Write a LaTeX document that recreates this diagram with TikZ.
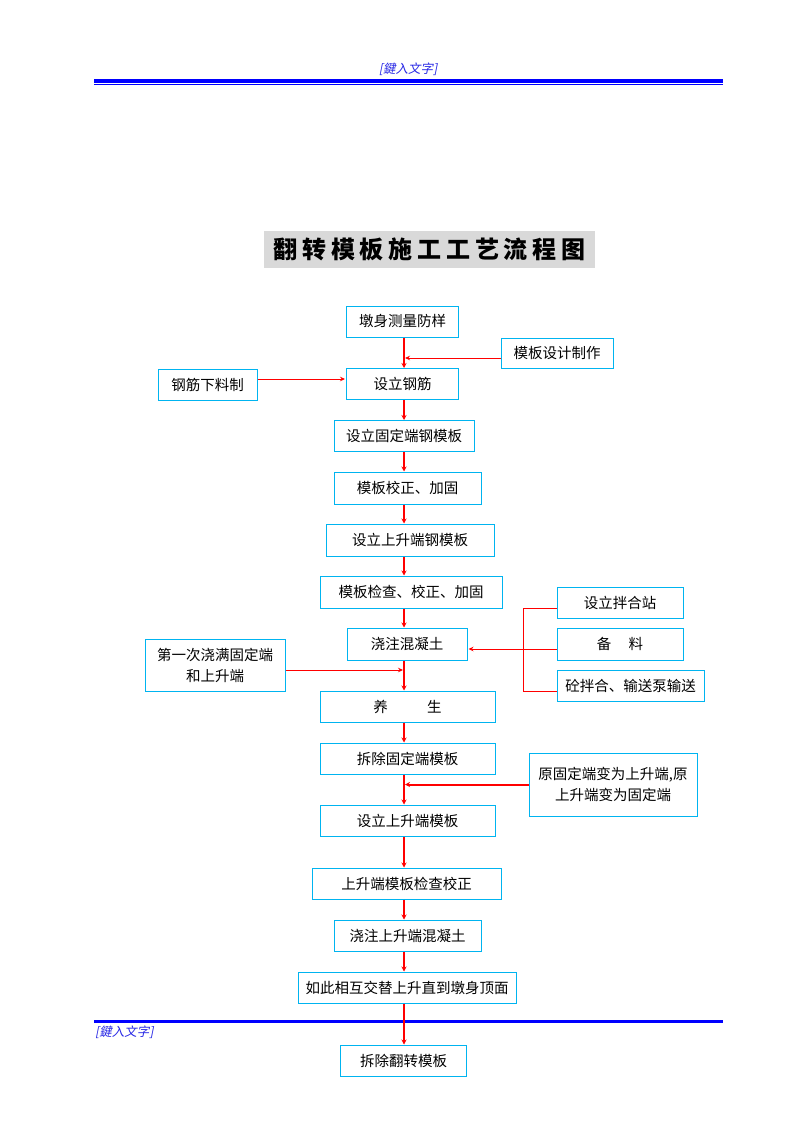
\documentclass[tikz,border=0pt]{standalone}
\usepackage{fontspec}
\usetikzlibrary{arrows.meta}
\newfontfamily\cjk{Noto Sans CJK SC}
\newfontfamily\cjkslant{Noto Sans CJK SC}[FakeSlant=0.2]
\newfontfamily\cjktitle{Noto Sans CJK SC}[LetterSpace=20]
\definecolor{boxc}{RGB}{0,180,240}
\definecolor{hdrblue}{RGB}{0,0,255}
\definecolor{hdrtext}{RGB}{40,40,230}
\definecolor{titlegray}{RGB}{217,217,217}
\definecolor{flowred}{RGB}{255,0,0}
\tikzset{
  box/.style={draw=boxc, line width=1pt, fill=white, inner sep=0pt, align=center,
    font=\cjk\fontsize{14.5}{21}\selectfont},
  mainarrow/.style={draw=flowred, line width=2pt, -{Stealth[length=5pt,width=5pt]}},
  sidearrow/.style={draw=flowred, line width=1pt, -{Stealth[length=5pt,width=4.5pt]}, shorten >=1pt},
  sideline/.style={draw=flowred, line width=1pt},
  hdrtxt/.style={inner sep=0pt, text=hdrtext, font=\cjkslant\fontsize{12.5}{14}\selectfont},
}
\begin{document}
\begin{tikzpicture}[x=1pt,y=-1pt]
\useasboundingbox (0,0) rectangle (794,1123);
\fill[white] (0,0) rectangle (794,1123);
% header and footer
\node[hdrtxt] (hdr) at (408,69) {[鍵入文字]};
\fill[hdrblue] (94,79) rectangle (723,83);
\fill[hdrblue] (94,84.3) rectangle (723,85.4);
\fill[hdrblue] (94,1020) rectangle (723,1023);
\node[hdrtxt, anchor=west] (ftr) at (95,1032.5) {[鍵入文字]};
% title
\node[fill=titlegray, minimum width=331pt, minimum height=37pt, inner sep=0pt,
  font=\cjktitle\bfseries\fontsize{24}{26}\selectfont] (title) at (429.5,249.5) {翻转模板施工工艺流程图};
\coordinate (mx) at (404,0);
\coordinate (bx) at (523,0);
% main column
\node[box, minimum width=112pt, minimum height=31pt] (a1) at (402.5,321.5) {墩身测量防样};
\node[box, minimum width=112pt, minimum height=31pt] (a2) at (402.5,384) {设立钢筋};
\node[box, minimum width=140pt, minimum height=31pt] (a3) at (404,436) {设立固定端钢模板};
\node[box, minimum width=147pt, minimum height=32pt] (a4) at (407.5,488) {模板校正、加固};
\node[box, minimum width=168pt, minimum height=32pt] (a5) at (410,540) {设立上升端钢模板};
\node[box, minimum width=182pt, minimum height=32pt] (a6) at (411,592) {模板检查、校正、加固};
\node[box, minimum width=120pt, minimum height=32pt] (a7) at (407,644) {浇注混凝土};
\node[box, minimum width=175pt, minimum height=31pt] (a8) at (407.5,706.5) {养\hspace{2.7em}生};
\node[box, minimum width=175pt, minimum height=31pt] (a9) at (407.5,758.5) {拆除固定端模板};
\node[box, minimum width=175pt, minimum height=31pt] (a10) at (407.5,820.5) {设立上升端模板};
\node[box, minimum width=189pt, minimum height=31pt] (a11) at (406.5,883.5) {上升端模板检查校正};
\node[box, minimum width=147pt, minimum height=31pt] (a12) at (407.5,935.5) {浇注上升端混凝土};
\node[box, minimum width=218pt, minimum height=31pt] (a13) at (407,987.5) {如此相互交替上升直到墩身顶面};
\node[box, minimum width=126pt, minimum height=31pt] (a14) at (403.5,1060.5) {拆除翻转模板};
% side boxes
\node[box, minimum width=112pt, minimum height=30pt] (b1) at (557,353) {模板设计制作};
\node[box, minimum width=99pt, minimum height=31pt] (c1) at (207.5,384.5) {钢筋下料制};
\node[box, minimum width=140pt, minimum height=52pt] (d1) at (215,665) {第一次浇满固定端\\和上升端};
\node[box, minimum width=126pt, minimum height=31pt] (m1) at (620,602.5) {设立拌合站};
\node[box, minimum width=126pt, minimum height=32pt] (m2) at (620,644) {备\hspace{1.2em}料};
\node[box, minimum width=147pt, minimum height=31pt] (m3) at (630.5,685.5) {砼拌合、输送泵输送};
\node[box, minimum width=168pt, minimum height=63pt] (e1) at (613,784.5) {原固定端变为上升端,原\\上升端变为固定端};
% main connectors
\foreach \u/\v in {a1/a2,a2/a3,a3/a4,a4/a5,a5/a6,a6/a7,a7/a8,a8/a9,a9/a10,a10/a11,a11/a12,a12/a13,a13/a14}
  \draw[mainarrow] (\u.south -| mx) -- (\v.north -| mx);
% side connectors
\draw[sidearrow] ([yshift=-5pt]b1.west) -- ([yshift=-5pt]b1.west -| mx);
\draw[sidearrow] ([yshift=5.5pt]c1.east) -- ([yshift=5.5pt]c1.east -| a2.west);
\draw[sidearrow] ([yshift=-5pt]d1.east) -- ([yshift=-5pt]d1.east -| mx);
\draw[sideline] ([yshift=-5.5pt]m1.west) -- ([yshift=-5.5pt]m1.west -| bx) -- ([yshift=-5.5pt]m3.west -| bx) -- ([yshift=-5.5pt]m3.west);
\draw[sidearrow] ([yshift=-5pt]m2.west) -- ([yshift=-5pt]m2.west -| a7.east);
\draw[mainarrow, shorten >=1pt] (e1.west) -- (e1.west -| mx);
\end{tikzpicture}
\end{document}
